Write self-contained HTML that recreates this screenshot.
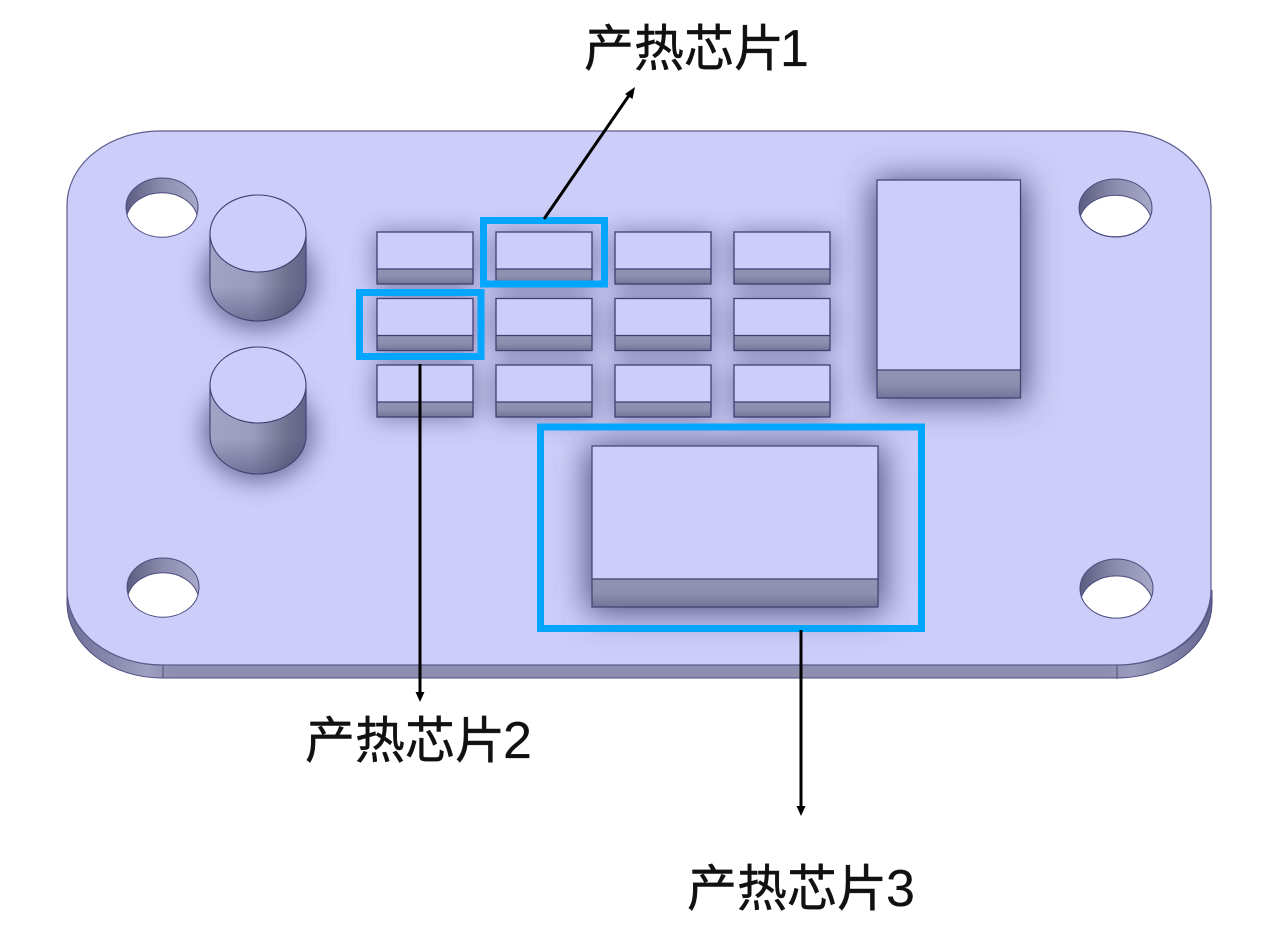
<!DOCTYPE html>
<html><head><meta charset="utf-8"><style>
html,body{margin:0;padding:0;background:#fff}
svg{display:block}
text{font-family:"Liberation Sans","Noto Sans CJK SC",sans-serif;font-size:50px;fill:#111;stroke:#111;stroke-width:.45px}
tspan.d{font-size:52px;stroke-width:.2px}
</style></head><body>
<svg width="1280" height="947" viewBox="0 0 1280 947" xmlns="http://www.w3.org/2000/svg">
<defs>
<filter id="b1" x="-60%" y="-60%" width="220%" height="220%"><feGaussianBlur stdDeviation="12"/></filter>
<filter id="b2" x="-40%" y="-40%" width="180%" height="180%"><feGaussianBlur stdDeviation="17"/></filter>
<linearGradient id="front" x1="0" y1="0" x2="0" y2="1"><stop offset="0" stop-color="#9292b2"/><stop offset=".5" stop-color="#8e8eae"/><stop offset="1" stop-color="#74749a"/></linearGradient>
<linearGradient id="cyl" x1="0" y1="0" x2="1" y2="0"><stop offset="0" stop-color="#a2a2c4"/><stop offset=".45" stop-color="#9c9cbe"/><stop offset=".8" stop-color="#70708f"/><stop offset="1" stop-color="#64648a"/></linearGradient>
<linearGradient id="cylv" x1="0" y1="0" x2="0" y2="1"><stop offset=".6" stop-color="#40406a" stop-opacity="0"/><stop offset="1" stop-color="#40406a" stop-opacity=".45"/></linearGradient>
<linearGradient id="wall" x1="0" y1="0" x2="1" y2="0"><stop offset="0" stop-color="#5c5c80"/><stop offset=".5" stop-color="#8c8cae"/><stop offset="1" stop-color="#a8a8c8"/></linearGradient>
<linearGradient id="edge" x1="0" y1="0" x2="1" y2="0"><stop offset="0" stop-color="#6e6e96"/><stop offset=".07" stop-color="#a0a0c2"/><stop offset=".09" stop-color="#8e8eb0"/><stop offset=".91" stop-color="#8e8eb0"/><stop offset=".93" stop-color="#9c9cbe"/><stop offset="1" stop-color="#66668e"/></linearGradient>
<clipPath id="plate"><path d="M160 131H1118A93 76 0 0 1 1211 207V590A94 75 0 0 1 1117 665H162A95 75 0 0 1 67 590V205A93 74 0 0 1 160 131Z"/></clipPath>
<g id="chip">
<rect x="0" y="0" width="96" height="52" fill="#cdcdf9"/>
<rect x="0" y="37" width="96" height="15" fill="url(#front)"/>
<rect x="0" y="0" width="96" height="52" fill="none" stroke="#3f3f72" stroke-width="1.3"/>
<line x1="0" y1="37" x2="96" y2="37" stroke="#3f3f72" stroke-width="1.3"/>
</g>
</defs>

<!-- plate -->
<path d="M67 590V604A95 75 0 0 0 162 678H1117A95 75 0 0 0 1212 604V590A94 75 0 0 1 1117 665H162A95 75 0 0 1 67 590Z" fill="url(#edge)" stroke="#4c4c80" stroke-width="1"/>
<line x1="163" y1="664" x2="163" y2="678" stroke="#4c4c80" stroke-width="1"/>
<line x1="1117" y1="665" x2="1117" y2="679" stroke="#4c4c80" stroke-width="1"/>
<path d="M160 131H1118A93 76 0 0 1 1211 207V590A94 75 0 0 1 1117 665H162A95 75 0 0 1 67 590V205A93 74 0 0 1 160 131Z" fill="#cdcdf9" stroke="#5c5c8c" stroke-width="1.2"/>

<!-- shadows -->
<g clip-path="url(#plate)" fill="#4c4c78">
<g filter="url(#b1)" opacity=".7">
<ellipse cx="258" cy="280" rx="56" ry="50"/>
<ellipse cx="258" cy="432" rx="56" ry="50"/>
</g>
<g filter="url(#b1)" opacity=".62">
<rect x="375" y="232" width="100" height="54"/><rect x="494" y="232" width="100" height="54"/><rect x="613" y="232" width="100" height="54"/><rect x="732" y="232" width="100" height="54"/>
<rect x="375" y="298" width="100" height="54"/><rect x="494" y="298" width="100" height="54"/><rect x="613" y="298" width="100" height="54"/><rect x="732" y="298" width="100" height="54"/>
<rect x="375" y="365" width="100" height="54"/><rect x="494" y="365" width="100" height="54"/><rect x="613" y="365" width="100" height="54"/><rect x="732" y="365" width="100" height="54"/>
</g>
<g filter="url(#b2)" opacity="1">
<rect x="588" y="446" width="295" height="166"/>
<rect x="873" y="180" width="152" height="222"/>
</g>
</g>

<!-- holes -->
<g stroke="#4c4c80" stroke-width="1">
<ellipse cx="162" cy="207" rx="36" ry="29" fill="url(#wall)"/><path d="M127 215A36 29 0 0 1 197 215A36 29 0 0 1 127 215Z" fill="#fff"/>
<ellipse cx="1115.500" cy="208" rx="36.500" ry="29" fill="url(#wall)"/><path d="M1080.500 216A36.500 29 0 0 1 1150.500 216A36.500 29 0 0 1 1080.500 216Z" fill="#fff"/>
<ellipse cx="163" cy="587" rx="36" ry="29" fill="url(#wall)"/><path d="M128 595A36 29 0 0 1 198 595A36 29 0 0 1 128 595Z" fill="#fff"/>
<ellipse cx="1116.500" cy="588.500" rx="36.500" ry="29.500" fill="url(#wall)"/><path d="M1081.500 597A36.500 29.500 0 0 1 1151.500 597A36.500 29.500 0 0 1 1081.500 597Z" fill="#fff"/>
</g>

<!-- cylinders -->
<g stroke="#3f3f72" stroke-width="1.1">
<path d="M210 233V283A48 38 0 0 0 306 283V233Z" fill="url(#cyl)"/>
<path d="M210 233V283A48 38 0 0 0 306 283V233Z" fill="url(#cylv)" stroke="none"/>
<ellipse cx="258" cy="233.500" rx="48" ry="38.500" fill="#cdcdf9"/>
<path d="M210 385V436A48 38 0 0 0 306 436V385Z" fill="url(#cyl)"/>
<path d="M210 385V436A48 38 0 0 0 306 436V385Z" fill="url(#cylv)" stroke="none"/>
<ellipse cx="258" cy="385" rx="48" ry="38" fill="#cdcdf9"/>
</g>

<!-- chips -->
<use href="#chip" x="377" y="232"/><use href="#chip" x="496" y="232"/><use href="#chip" x="615" y="232"/><use href="#chip" x="734" y="232"/>
<use href="#chip" x="377" y="298.500"/><use href="#chip" x="496" y="298.500"/><use href="#chip" x="615" y="298.500"/><use href="#chip" x="734" y="298.500"/>
<use href="#chip" x="377" y="365"/><use href="#chip" x="496" y="365"/><use href="#chip" x="615" y="365"/><use href="#chip" x="734" y="365"/>

<!-- large blocks -->
<rect x="592" y="446" width="286" height="161" fill="#cdcdf9"/>
<rect x="592" y="579" width="286" height="28" fill="url(#front)"/>
<rect x="592" y="446" width="286" height="161" fill="none" stroke="#3f3f72" stroke-width="1.2"/>
<line x1="592" y1="579" x2="878" y2="579" stroke="#3f3f72" stroke-width="1.2"/>
<rect x="877" y="180" width="143.500" height="218" fill="#cdcdf9"/>
<rect x="877" y="370" width="143.500" height="28" fill="url(#front)"/>
<rect x="877" y="180" width="143.500" height="218" fill="none" stroke="#3f3f72" stroke-width="1.2"/>
<line x1="877" y1="370" x2="1020.500" y2="370" stroke="#3f3f72" stroke-width="1.2"/>

<!-- highlight boxes -->
<g fill="none" stroke="#00a6ff" stroke-width="7">
<rect x="483.500" y="220.500" width="121" height="63.500"/>
<rect x="359.500" y="292.500" width="121.500" height="64"/>
<rect x="540.500" y="427" width="381" height="201.500"/>
</g>

<!-- arrows -->
<g stroke="#000" stroke-width="3" fill="#000">
<line x1="544" y1="219" x2="630" y2="94"/>
<line x1="420" y1="364" x2="420" y2="695"/>
<line x1="801" y1="630" x2="801" y2="808"/>
<g stroke="none">
<polygon points="635,87 632.500,99 625,94"/>
<polygon points="420,702 415.500,692 424.500,692"/>
<polygon points="801,816 796.500,806 805.500,806"/>
</g>
</g>

<!-- labels -->
<text x="584" y="66">产热芯片<tspan class="d" x="780">1</tspan></text>
<text x="305" y="758">产热芯片<tspan class="d" x="503">2</tspan></text>
<text x="687" y="906">产热芯片<tspan class="d" x="886">3</tspan></text>
</svg>
</body></html>
